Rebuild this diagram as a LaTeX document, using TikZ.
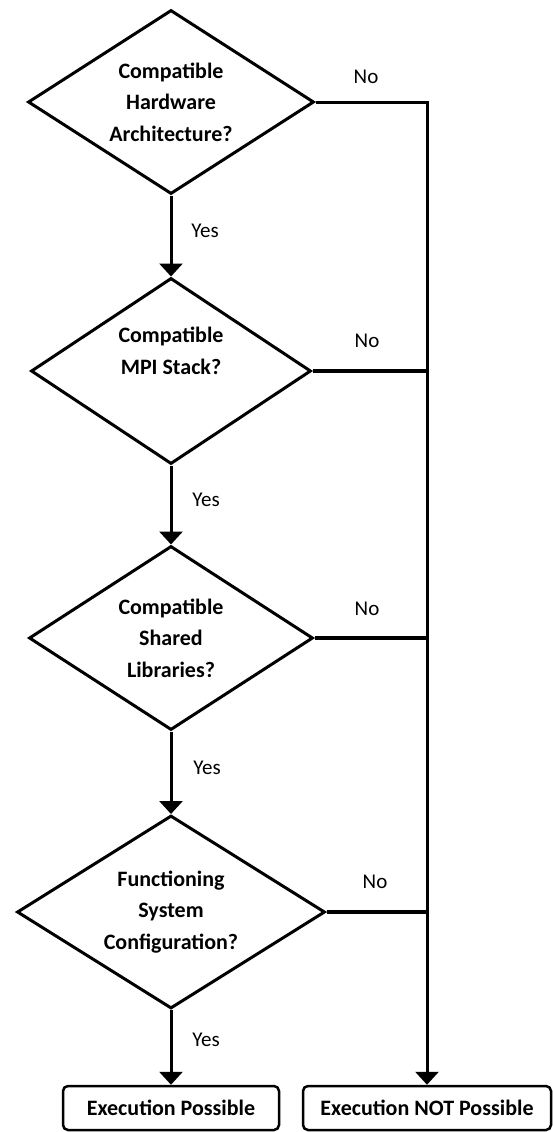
\documentclass[tikz,border=0pt]{standalone}
\usepackage{fontspec}
\setmainfont{Carlito}
\usetikzlibrary{shapes.geometric,arrows.meta}
\begin{document}
\begin{tikzpicture}[x=1pt,y=-1pt,
  dec/.style={diamond, draw, line width=3pt, inner sep=0pt, aspect=1.55, align=center,
    font=\bfseries\fontsize{22}{31.5}\selectfont},
  endbox/.style={draw, line width=2.5pt, rounded corners=5pt, minimum height=44pt, inner sep=0pt,
    font=\bfseries\fontsize{22}{26}\selectfont},
  lab/.style={font=\fontsize{21}{25}\selectfont, inner sep=0pt},
  flow/.style={line width=3pt, -{Triangle[width=23pt,length=13pt]}},
  branch/.style={line width=3.6pt}]
\fill[white] (0,0) rectangle (553,1132);
\useasboundingbox (0,0) rectangle (553,1132);
\node[dec, minimum width=286pt, minimum height=184pt] (d1) at (171,102) {Compatible\\Hardware\\Architecture?};
\node[dec, minimum width=280pt, minimum height=186pt] (d2) at (171,371) {Compatible\\MPI Stack?\\\strut};
\node[dec, minimum width=284pt, minimum height=184pt] (d3) at (171,638) {Compatible\\Shared\\Libraries?};
\node[dec, minimum width=308pt, minimum height=193pt] (d4) at (171,912) {Functioning\\System\\Configuration?};
\node[endbox, minimum width=216pt] (ok) at (171,1108) {Execution Possible};
\node[endbox, minimum width=248pt] (notok) at (427,1108) {Execution NOT Possible};
\draw[flow] (d1.south) -- (d2.north);
\draw[flow] (d2.south) -- (d3.north);
\draw[flow] (d3.south) -- (d4.north);
\draw[flow] (d4.south) -- (ok.north);
\draw[flow] (d1.east) -| (notok.north);
\draw[branch] (d2.east) -- (d2.east -| notok.north);
\draw[branch] (d3.east) -- (d3.east -| notok.north);
\draw[branch] (d4.east) -- (d4.east -| notok.north);
\node[lab] (n1) at (366,77) {No};
\node[lab] (n2) at (367,341) {No};
\node[lab] (n3) at (367,609) {No};
\node[lab] (n4) at (375,882) {No};
\node[lab] (y1) at (205,231) {Yes};
\node[lab] (y2) at (206,500) {Yes};
\node[lab] (y3) at (207,768) {Yes};
\node[lab] (y4) at (206,1040) {Yes};
\end{tikzpicture}
\end{document}
